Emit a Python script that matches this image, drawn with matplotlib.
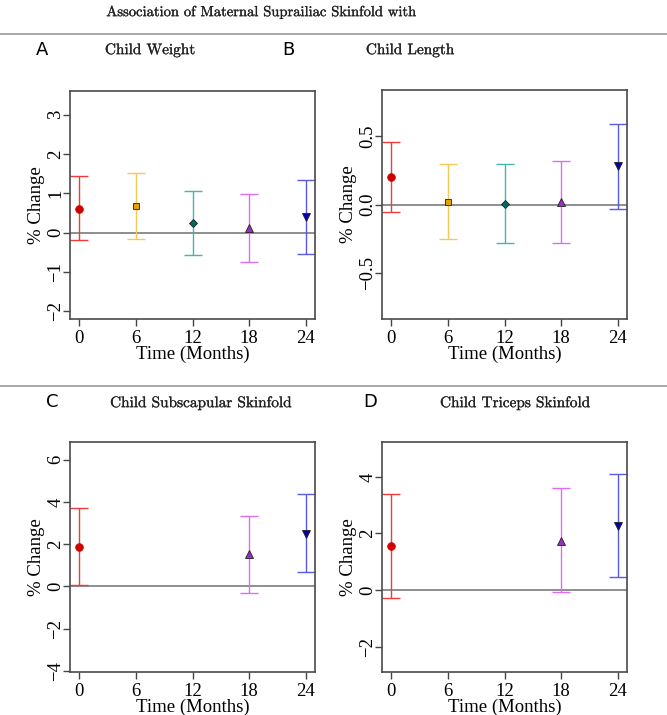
import numpy as np
import matplotlib.pyplot as plt
import matplotlib.patheffects as pe

# months at which each estimate was made
months_full = [0, 6, 12, 18, 24]
months_skin = [0, 18, 24]

# A: child weight
weight_est = [0.61, 0.67, 0.24, 0.12, 0.40]
weight_lo = [-0.20, -0.17, -0.58, -0.74, -0.54]
weight_hi = [1.43, 1.52, 1.06, 0.97, 1.34]

# B: child length
length_est = [0.20, 0.02, 0.005, 0.017, 0.28]
length_lo = [-0.056, -0.25, -0.28, -0.283, -0.03]
length_hi = [0.455, 0.295, 0.295, 0.32, 0.59]

# C: subscapular skinfold
subscap_est = [1.86, 1.53, 2.49]
subscap_lo = [0.08, -0.30, 0.68]
subscap_hi = [3.69, 3.34, 4.36]

# D: triceps skinfold
triceps_est = [1.56, 1.75, 2.27]
triceps_lo = [-0.27, -0.08, 0.45]
triceps_hi = [3.41, 3.59, 4.09]

# style per month: bar colour, marker fill, marker
style = {
    0: ('#ee3b3b', '#d10000', 'o'),
    6: ('#f8c857', '#e89f00', 's'),
    12: ('#45b5ad', '#006b66', 'D'),
    18: ('#de6bf0', '#9a2fc8', '^'),
    24: ('#5a5ae0', '#0000b0', 'v'),
}
msize = {'o': 5.5, 's': 5, 'D': 4.5, '^': 6, 'v': 6}

W, H = 667, 715
fig = plt.figure(figsize=(W / 100, H / 100), dpi=100)

def px_axes(x0, y0, x1, y1):
    return fig.add_axes([x0 / W, 1 - y1 / H, (x1 - x0) / W, (y1 - y0) / H])

tick_font = dict(family='Liberation Serif', size=13.5)

def panel(ax, months, est, lo, hi, ylim, yticks, ylabels):
    ax.axhline(0, color='#707070', lw=1.1, zorder=1)
    for m, e, l, h in zip(months, est, lo, hi):
        bar, fill, mk = style[m]
        ax.errorbar([m], [e], yerr=[[e - l], [h - e]], fmt='none',
                    ecolor=bar, elinewidth=1.0, capsize=6.5, capthick=1.0, zorder=2)
        ax.plot([m], [e], marker=mk, ms=msize[mk], mfc=fill,
                mec='#202020' if m != 0 else fill, mew=0.6, ls='none', zorder=3)
    ax.set_xlim(-1, 25)
    ax.set_ylim(*ylim)
    ax.set_xticks(months_full)
    ax.set_xticklabels([str(m) for m in months_full], fontdict=tick_font)
    ax.set_yticks(yticks)
    ax.set_yticklabels(ylabels, fontdict=tick_font, rotation=90, va='center')
    ax.tick_params(axis='x', direction='out', length=5, width=1, color='#444444', pad=3)
    ax.tick_params(axis='y', direction='out', length=5, width=1, color='#444444', pad=-1)
    for s in ax.spines.values():
        s.set_color('#4a4a4a')
        s.set_linewidth(1.2)
    ax.set_xlabel('Time (Months)', fontdict=tick_font, labelpad=-1)
    ax.set_ylabel('% Change', fontdict=tick_font, labelpad=2)

axA = px_axes(70, 91, 315, 319)
panel(axA, months_full, weight_est, weight_lo, weight_hi, (-2.2, 3.6),
      [-2, -1, 0, 1, 2, 3], ['\u22122', '\u22121', '0', '1', '2', '3'])
axB = px_axes(382, 90, 627, 319)
panel(axB, months_full, length_est, length_lo, length_hi, (-0.835, 0.835),
      [-0.5, 0.0, 0.5], ['\u22120.5', '0.0', '0.5'])
axC = px_axes(70, 442, 315, 672)
panel(axC, months_skin, subscap_est, subscap_lo, subscap_hi, (-4.05, 6.83),
      [-4, -2, 0, 2, 4, 6], ['\u22124', '\u22122', '0', '2', '4', '6'])
axD = px_axes(382, 442, 627, 672)
panel(axD, months_skin, triceps_est, triceps_lo, triceps_hi, (-2.89, 5.23),
      [-2, 0, 2, 4], ['\u22122', '0', '2', '4'])

# headers
bold = [pe.withStroke(linewidth=0.2, foreground='#222222')]

def ftext(x, y, s, **kw):
    fig.text(x / W, 1 - y / H, s, ha='center', va='center', **kw)

ftext(262, 12, 'Association of Maternal Suprailiac Skinfold with',
      family='cmr10', size=10.5, color='#222222', path_effects=bold)
ftext(42, 50, 'A', family='DejaVu Sans', size=13)
ftext(150, 50, 'Child Weight', family='cmr10', size=11, color='#222222', path_effects=bold)
ftext(288, 50, 'B', family='DejaVu Sans', size=13)
ftext(410, 50, 'Child Length', family='cmr10', size=11, color='#222222', path_effects=bold)
ftext(52, 402, 'C', family='DejaVu Sans', size=13)
ftext(201, 403, 'Child Subscapular Skinfold', family='cmr10', size=11, color='#222222',
      path_effects=bold)
ftext(370, 402, 'D', family='DejaVu Sans', size=13)
ftext(515, 403, 'Child Triceps Skinfold', family='cmr10', size=11, color='#222222',
      path_effects=bold)

# separator lines
for yy in (34, 386):
    fig.add_artist(plt.Line2D([0, 1], [1 - yy / H] * 2, color='#999999', lw=1.2,
                              transform=fig.transFigure))

fig.savefig('out.png', dpi=100)
